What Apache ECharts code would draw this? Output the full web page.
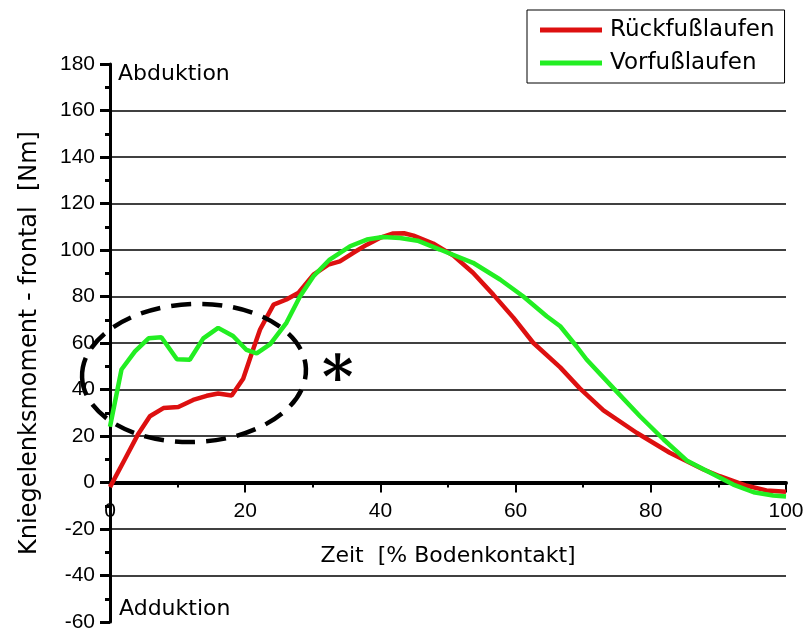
<!DOCTYPE html>
<html>
<head>
<meta charset="utf-8">
<script src="https://cdn.jsdelivr.net/npm/echarts@6/dist/echarts.min.js"></script>
<style>
  html, body { margin: 0; padding: 0; background: #fff; }
  #chart { width: 807px; height: 631px; }
</style>
</head>
<body>
<div id="chart"></div>
<script>
// Zeit in % Bodenkontakt / Moment in Nm
var rueckX = [0, 2.2, 4.2, 5.9, 7.9, 10.1, 12.3, 14.3, 16.0, 18.0, 19.7, 21.0, 22.2, 24.2, 26.1, 27.9, 30.1, 32.3, 34.0, 36.0, 38.0, 39.9, 41.9, 43.5, 44.9, 47.8, 50.8, 53.7, 56.7, 59.7, 62.6, 66.6, 69.5, 73.0, 77.9, 82.8, 87.8, 90.2, 94.2, 97.1, 100];
var rueckY = [-2, 10, 21, 28.5, 32, 32.5, 35.5, 37.3, 38.3, 37.4, 44.6, 55.8, 65.8, 76.5, 78.7, 81.6, 89.4, 93.7, 95.1, 98.8, 102.3, 105.2, 107.1, 107.2, 106.2, 102.8, 97.6, 90.2, 80.8, 70.8, 60.1, 49.5, 40.5, 31, 21.4, 12.8, 5.6, 2.7, -1.4, -3.4, -4];

var vorX = [0, 1.7, 3.7, 5.7, 7.6, 9.9, 11.8, 13.8, 16.0, 18.2, 20.2, 21.7, 23.7, 26.1, 28.1, 30.1, 32.5, 35.5, 38.0, 40.4, 42.9, 45.5, 48.8, 53.7, 57.7, 61.1, 64.6, 66.6, 69.0, 70.5, 74.5, 78.4, 81.9, 85.3, 88.8, 92.2, 95.2, 98.1, 100];
var vorY = [24, 48.6, 56.4, 62, 62.5, 53, 52.8, 62, 66.5, 63, 57, 55.5, 59.5, 68.7, 80, 88.7, 95.9, 101.6, 104.5, 105.6, 105.2, 104, 100.2, 94.5, 87.3, 80.1, 71.5, 67.2, 58.6, 52.9, 40.5, 28.5, 18.5, 9.5, 4.2, -0.9, -4.2, -5.6, -6];

var seriesNames = ['Rückfußlaufen', 'Vorfußlaufen'];
var xTicks = { min: 0, max: 100, interval: 20 };
var yTicks = { min: -60, max: 180, interval: 20 };

var numFont = 'Liberation Sans, Arial, sans-serif';
var txtFont = 'DejaVu Sans, sans-serif';

var gridTop = 64, gridBottom = 9, chartH = 631;
// x-Achse sitzt auf der Nulllinie -> Abstand vom unteren Gridrand
var zeroOffset = -(chartH - gridTop - gridBottom) * (0 - yTicks.min) / (yTicks.max - yTicks.min);

function pairs(xs, ys) {
    return xs.map(function (x, i) { return [x, ys[i]]; });
}

var myChart = echarts.init(document.getElementById('chart'));
var option = {
    backgroundColor: '#fff',
    animation: false,
    legend: {
        orient: 'vertical',
        left: 527,
        top: 10,
        padding: [7, 10, 7, 13],
        itemGap: 7,
        itemWidth: 62,
        itemHeight: 5,
        icon: 'rect',
        borderColor: '#000',
        borderWidth: 1,
        data: seriesNames,
        textStyle: {
            color: '#000',
            fontFamily: txtFont,
            fontSize: 23,
            lineHeight: 26,
            padding: [0, 0, 0, 3]
        }
    },
    grid: {
        left: 110,
        right: 21,
        top: gridTop,
        bottom: gridBottom,
        outerBoundsMode: 'none'
    },
    xAxis: {
        type: 'value',
        min: xTicks.min,
        max: xTicks.max,
        interval: xTicks.interval,
        offset: zeroOffset,
        name: 'Zeit  [% Bodenkontakt]',
        nameLocation: 'middle',
        nameGap: 63,
        nameTextStyle: { color: '#000', fontFamily: txtFont, fontSize: 22 },
        axisLine: { onZero: false, lineStyle: { color: '#000', width: 4 } },
        axisTick: { length: 10, lineStyle: { color: '#000', width: 2 } },
        minorTick: { show: true, splitNumber: 2, length: 5, lineStyle: { color: '#000', width: 2 } },
        axisLabel: { color: '#000', fontFamily: numFont, fontSize: 21, margin: 18 },
        splitLine: { show: false }
    },
    yAxis: {
        type: 'value',
        min: yTicks.min,
        max: yTicks.max,
        interval: yTicks.interval,
        name: 'Kniegelenksmoment - frontal  [Nm]',
        nameLocation: 'middle',
        nameGap: 68,
        nameTextStyle: { color: '#000', fontFamily: txtFont, fontSize: 24 },
        axisLine: { show: true, lineStyle: { color: '#000', width: 3 } },
        axisTick: { show: true, length: 10, lineStyle: { color: '#000', width: 3 } },
        minorTick: { show: true, splitNumber: 2, length: 5, lineStyle: { color: '#000', width: 3 } },
        axisLabel: { color: '#000', fontFamily: numFont, fontSize: 21, margin: 15 },
        splitLine: {
            show: true,
            showMinLine: false,
            showMaxLine: false,
            lineStyle: { color: '#000', width: 1.5 }
        }
    },
    graphic: [
        {
            type: 'text', left: 118, top: 63,
            style: { text: 'Abduktion', fill: '#000', font: '22px ' + txtFont }
        },
        {
            type: 'text', left: 119, top: 598,
            style: { text: 'Adduktion', fill: '#000', font: '22px ' + txtFont }
        },
        {
            type: 'ellipse',
            shape: { cx: 194, cy: 373, rx: 112, ry: 69 },
            rotation: 0.04,
            originX: 194, originY: 373,
            style: { fill: 'none', stroke: '#000', lineWidth: 4.5, lineDash: [20, 11] },
            z: 100
        },
        {
            type: 'text', left: 322, top: 352,
            style: { text: '*', fill: '#000', font: 'bold 60px DejaVu Serif' },
            z: 100
        }
    ],
    series: [
        {
            name: seriesNames[0],
            type: 'line',
            data: pairs(rueckX, rueckY),
            symbol: 'none',
            lineStyle: { color: '#dd1010', width: 4.5 },
            itemStyle: { color: '#dd1010' }
        },
        {
            name: seriesNames[1],
            type: 'line',
            data: pairs(vorX, vorY),
            symbol: 'none',
            lineStyle: { color: '#22ee22', width: 4.5 },
            itemStyle: { color: '#22ee22' }
        }
    ]
};
myChart.setOption(option);
</script>
</body>
</html>
